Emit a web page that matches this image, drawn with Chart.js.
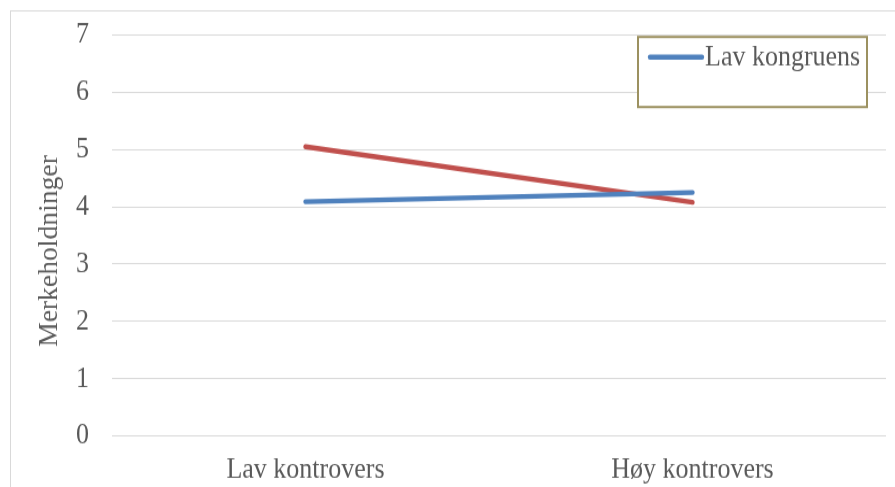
<!DOCTYPE html>
<html>
<head>
<meta charset="utf-8">
<script src="https://cdn.jsdelivr.net/npm/chart.js@4/dist/chart.umd.min.js"></script>
<style>
  html, body { margin: 0; padding: 0; background: #ffffff; }
  #view { display: block; }
  /* working canvas: laid out shorter, then copied stretched onto #view */
  #c { position: absolute; left: -3000px; top: 0; }
</style>
</head>
<body>
<canvas id="view" width="895" height="487"></canvas>
<canvas id="c" width="895" height="424"></canvas>
<script>
// Categories and series values
const categories = ['Lav kontrovers', 'Høy kontrovers'];
const lavKongruens = [4.09, 4.25];
const hoyKongruens = [5.05, 4.08];
const yTicks = [0, 1, 2, 3, 4, 5, 6, 7];
const yTitle = 'Merkeholdninger';

const serif = '"Liberation Serif", "Times New Roman", serif';
const textColor = '#595959';
const gridColor = '#d9d9d9';

// Outer frame of the chart area
const framePlugin = {
  id: 'frame',
  beforeDraw(chart) {
    const ctx = chart.ctx;
    ctx.save();
    ctx.fillStyle = '#ffffff';
    ctx.fillRect(0, 0, chart.width, chart.height);
    ctx.strokeStyle = gridColor;
    ctx.lineWidth = 1;
    ctx.strokeRect(10.5, 9.5, chart.width + 20, chart.height + 20);
    ctx.restore();
  }
};

// Vertical axis title, sitting a little below the middle of the value axis
const axisTitle = {
  id: 'axisTitle',
  afterDraw(chart) {
    const ctx = chart.ctx;
    const y = chart.scales.y;
    ctx.save();
    ctx.translate(57, y.getPixelForValue(3.23));
    ctx.rotate(-Math.PI / 2);
    ctx.scale(0.89, 1);
    ctx.fillStyle = textColor;
    ctx.font = '27px ' + serif;
    ctx.textAlign = 'center';
    ctx.textBaseline = 'alphabetic';
    ctx.fillText(yTitle, 0, 0);
    ctx.restore();
  }
};

// Boxed legend showing the first series only
const boxLegend = {
  id: 'boxLegend',
  afterDraw(chart) {
    const ctx = chart.ctx;
    const ds = chart.data.datasets[0];
    ctx.save();
    ctx.fillStyle = '#ffffff';
    ctx.fillRect(638, 32.2, 229, 61);
    ctx.strokeStyle = '#9c9160';
    ctx.lineWidth = 2;
    ctx.strokeRect(638, 32.2, 229, 61);
    ctx.strokeStyle = ds.borderColor;
    ctx.lineWidth = ds.borderWidth;
    ctx.lineCap = 'round';
    ctx.beginPath();
    ctx.moveTo(650, 49.8);
    ctx.lineTo(702, 49.8);
    ctx.stroke();
    ctx.fillStyle = textColor;
    ctx.font = '26px ' + serif;
    ctx.textBaseline = 'middle';
    ctx.textAlign = 'left';
    ctx.fillText(ds.label, 705, 50.5);
    ctx.restore();
  }
};

// Copy the finished drawing onto the visible canvas, stretched to full height
const stretchCopy = {
  id: 'stretchCopy',
  afterRender(chart) {
    const view = document.getElementById('view');
    const vctx = view.getContext('2d');
    vctx.clearRect(0, 0, view.width, view.height);
    vctx.imageSmoothingEnabled = true;
    vctx.imageSmoothingQuality = 'high';
    vctx.drawImage(chart.canvas, 0, 0, chart.width, chart.height, 0, 0, view.width, view.height);
  }
};

new Chart(document.getElementById('c'), {
  type: 'line',
  data: {
    labels: categories,
    datasets: [
      {
        label: 'Lav kongruens',
        data: lavKongruens,
        borderColor: '#4f81bd',
        borderWidth: 4.4,
        borderCapStyle: 'round',
        pointRadius: 0,
        tension: 0
      },
      {
        label: 'Høy kongruens',
        data: hoyKongruens,
        borderColor: '#c0504d',
        borderWidth: 4.4,
        borderCapStyle: 'round',
        pointRadius: 0,
        tension: 0
      }
    ]
  },
  options: {
    responsive: false,
    animation: false,
    devicePixelRatio: 1,
    layout: { padding: { left: 10, top: 30.5, right: 9, bottom: 0 } },
    plugins: {
      legend: { display: false },
      tooltip: { enabled: false }
    },
    scales: {
      x: {
        offset: true,
        grid: { display: false, drawTicks: false },
        border: { display: false },
        ticks: {
          color: textColor,
          font: { family: serif, size: 26 },
          padding: 14,
          maxRotation: 0
        },
        afterFit(scale) {
          scale.height = 44.4;
          scale.paddingLeft = 0;
          scale.paddingRight = 0;
        }
      },
      y: {
        min: 0,
        max: 7,
        afterBuildTicks(scale) { scale.ticks = yTicks.map(v => ({ value: v })); },
        grid: { color: gridColor, lineWidth: 1, drawTicks: false },
        border: { display: false },
        ticks: {
          color: textColor,
          font: { family: serif, size: 26, lineHeight: 1 },
          padding: 23
        },
        title: { display: false, text: yTitle },
        afterFit(scale) {
          scale.width = 102;
          scale.paddingTop = 0;
          scale.paddingBottom = 0;
        }
      }
    }
  },
  plugins: [framePlugin, axisTitle, boxLegend, stretchCopy]
});
</script>
</body>
</html>
